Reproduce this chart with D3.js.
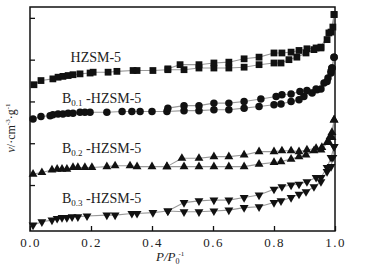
<!DOCTYPE html>
<html>
<head>
<meta charset="utf-8">
<script src="https://cdn.jsdelivr.net/npm/d3@7"></script>
<style>
  body { margin: 0; background: #fff; }
  text { font-family: "Liberation Serif", "Times New Roman", serif; fill: #222; }
</style>
</head>
<body>
<div id="main"></div>
<script>
// N2 isotherms, x = P/P0, y = adsorbed volume
var hzsmAds = [[0.013,170],[0.036,175],[0.075,177],[0.092,179],[0.108,180],[0.125,181],[0.141,182],[0.164,183],[0.197,184],[0.207,185],[0.256,185],[0.285,186],[0.338,187],[0.351,187],[0.403,187],[0.452,188],[0.505,188],[0.554,190],[0.603,190],[0.652,190],[0.702,191],[0.751,194],[0.800,196],[0.823,196],[0.849,200],[0.875,203],[0.905,208],[0.931,212],[0.954,214],[0.974,224],[0.987,233],[0.997,254]];
var hzsmDes = [[0.997,254],[0.993,239],[0.980,232],[0.954,215],[0.938,214],[0.908,213],[0.882,211],[0.856,209],[0.826,208],[0.800,208],[0.751,203],[0.702,201],[0.652,197],[0.603,196],[0.554,194],[0.492,194],[0.452,189]];

var b01Ads = [[0.010,129],[0.036,132],[0.066,133],[0.075,134],[0.092,135],[0.108,135],[0.125,136],[0.141,136],[0.164,137],[0.180,137],[0.197,137],[0.252,137],[0.302,138],[0.334,138],[0.361,138],[0.400,138],[0.449,138],[0.505,139],[0.554,139],[0.603,140],[0.652,140],[0.702,142],[0.751,144],[0.800,146],[0.823,147],[0.856,150],[0.882,152],[0.898,156],[0.925,160],[0.941,164],[0.964,172],[0.977,178],[0.987,184],[0.990,190],[0.997,203]];
var b01Des = [[0.997,203],[0.990,190],[0.987,186],[0.974,174],[0.954,165],[0.938,165],[0.908,163],[0.885,162],[0.856,159],[0.826,158],[0.807,156],[0.757,153],[0.702,150],[0.652,148],[0.603,148],[0.554,145],[0.505,145],[0.452,142]];

var b02Ads = [[0.010,63],[0.039,65],[0.072,68],[0.089,69],[0.105,69],[0.121,69],[0.141,71],[0.157,71],[0.180,71],[0.203,71],[0.252,72],[0.279,73],[0.328,73],[0.351,72],[0.400,72],[0.449,72],[0.505,72],[0.554,72],[0.603,72],[0.652,72],[0.702,72],[0.751,75],[0.800,77],[0.823,78],[0.856,81],[0.882,84],[0.905,86],[0.931,91],[0.957,95],[0.980,101],[0.990,107],[0.997,128]];
var b02Des = [[0.997,128],[0.990,113],[0.984,108],[0.974,101],[0.954,92],[0.938,94],[0.908,92],[0.882,90],[0.856,91],[0.826,91],[0.800,90],[0.751,90],[0.702,86],[0.652,84],[0.603,84],[0.554,82],[0.498,82],[0.449,72]];

var b03Ads = [[0.010,2],[0.039,6],[0.072,8],[0.089,10],[0.105,11],[0.121,11],[0.138,12],[0.157,12],[0.187,13],[0.252,14],[0.279,14],[0.334,16],[0.351,16],[0.403,17],[0.452,19],[0.505,18],[0.554,18],[0.603,19],[0.652,20],[0.702,23],[0.751,24],[0.800,29],[0.823,31],[0.856,35],[0.882,39],[0.905,42],[0.931,48],[0.954,54],[0.974,66],[0.987,72],[0.993,83],[0.997,96]];
var b03Des = [[0.997,96],[0.987,83],[0.974,71],[0.954,59],[0.938,59],[0.908,54],[0.882,51],[0.856,50],[0.826,48],[0.800,45],[0.751,38],[0.702,35],[0.652,32],[0.603,32],[0.554,31],[0.505,29],[0.452,19]];

var xTicks = [0, 0.2, 0.4, 0.6, 0.8, 1.0];
var yTicks = [50, 100, 150, 200, 250];

var ctx = {
    w: 368,
    h: 269,
    margin: { top: 7, right: 33, bottom: 38, left: 30 },
};

var svg = d3.select("#main").append("svg")
    .attr("width", ctx.w)
    .attr("height", ctx.h);

var width = ctx.w - ctx.margin.left - ctx.margin.right;
var height = ctx.h - ctx.margin.top - ctx.margin.bottom;

var g = svg.append("g")
    .attr("transform", "translate(" + ctx.margin.left + "," + ctx.margin.top + ")");

var x = d3.scaleLinear().domain([0, 1]).range([0, width]);
var y = d3.scaleLinear().domain([-5, 263]).range([height, 0]);

// axes, ticks pointing inward
var xAxis = g.append("g")
    .attr("transform", "translate(0," + height + ")")
    .call(d3.axisBottom(x).tickValues(xTicks).tickFormat(d3.format(".1f"))
        .tickSizeInner(-5).tickSizeOuter(0).tickPadding(7));
xAxis.select(".domain").remove();
xAxis.selectAll("line").attr("stroke", "#111").attr("stroke-width", 1.3);
xAxis.selectAll("text")
    .style("font-family", "Liberation Serif, serif")
    .style("font-size", "13px")
    .style("letter-spacing", "1.5px")
    .attr("fill", "#333");

var yAxis = g.append("g")
    .call(d3.axisLeft(y).tickValues(yTicks).tickFormat("")
        .tickSizeInner(-5).tickSizeOuter(0));
yAxis.select(".domain").remove();
yAxis.selectAll("line").attr("stroke", "#111").attr("stroke-width", 1.3);

g.append("rect")
    .attr("x", 0).attr("y", 0)
    .attr("width", width).attr("height", height)
    .attr("fill", "none")
    .attr("stroke", "#111")
    .attr("stroke-width", 1.5);

var line = d3.line()
    .x(function (d) { return x(d[0]); })
    .y(function (d) { return y(d[1]); });

var series = [
    { ads: hzsmAds, des: hzsmDes, symbol: d3.symbolSquare, size: 46, rot: 0 },
    { ads: b01Ads, des: b01Des, symbol: d3.symbolCircle, size: 44, rot: 0 },
    { ads: b02Ads, des: b02Des, symbol: d3.symbolTriangle, size: 34, rot: 0 },
    { ads: b03Ads, des: b03Des, symbol: d3.symbolTriangle, size: 34, rot: 180 },
];

series.forEach(function (s) {
    [s.ads, s.des].forEach(function (branch) {
        g.append("path")
            .datum(branch)
            .attr("d", line)
            .attr("fill", "none")
            .attr("stroke", "#999")
            .attr("stroke-width", 1.1);
    });
    var pts = s.ads.concat(s.des);
    g.append("g").selectAll("path")
        .data(pts)
        .enter()
        .append("path")
        .attr("d", d3.symbol().type(s.symbol).size(s.size))
        .attr("transform", function (d) {
            return "translate(" + x(d[0]) + "," + y(d[1]) + ") rotate(" + s.rot + ")";
        })
        .attr("fill", "#111");
});

// series labels
var labels = [
    { sub: null, px: 0.133, v: 197 },
    { sub: "0.1", px: 0.105, v: 148 },
    { sub: "0.2", px: 0.105, v: 88 },
    { sub: "0.3", px: 0.105, v: 29 },
];
labels.forEach(function (l) {
    var t = g.append("text")
        .attr("x", x(l.px))
        .attr("y", y(l.v))
        .style("font-size", "14px");
    if (l.sub === null) {
        t.text("HZSM-5");
    } else {
        t.append("tspan").text("B");
        t.append("tspan").attr("dy", 3).style("font-size", "9px").text(l.sub);
        t.append("tspan").attr("dy", -3).text(" -HZSM-5");
    }
});

// axis titles
var xl = svg.append("text")
    .attr("x", 156)
    .attr("y", 261)
    .style("font-size", "13px")
    .style("font-style", "italic");
xl.append("tspan").text("P/P");
xl.append("tspan").attr("dy", 3).style("font-size", "8px").style("font-style", "normal").text("0");
xl.append("tspan").attr("dy", -8).attr("dx", -1).style("font-size", "7px").style("font-style", "normal").text("-1");

var yl = svg.append("text")
    .attr("transform", "translate(15,128) rotate(-90)")
    .attr("text-anchor", "middle")
    .style("font-size", "12px");
yl.append("tspan").style("font-style", "italic").text("v");
yl.append("tspan").text("/·cm");
yl.append("tspan").attr("dy", -5).style("font-size", "7px").text("-3");
yl.append("tspan").attr("dy", 5).text("·g");
yl.append("tspan").attr("dy", -5).style("font-size", "7px").text("-1");
</script>
</body>
</html>
